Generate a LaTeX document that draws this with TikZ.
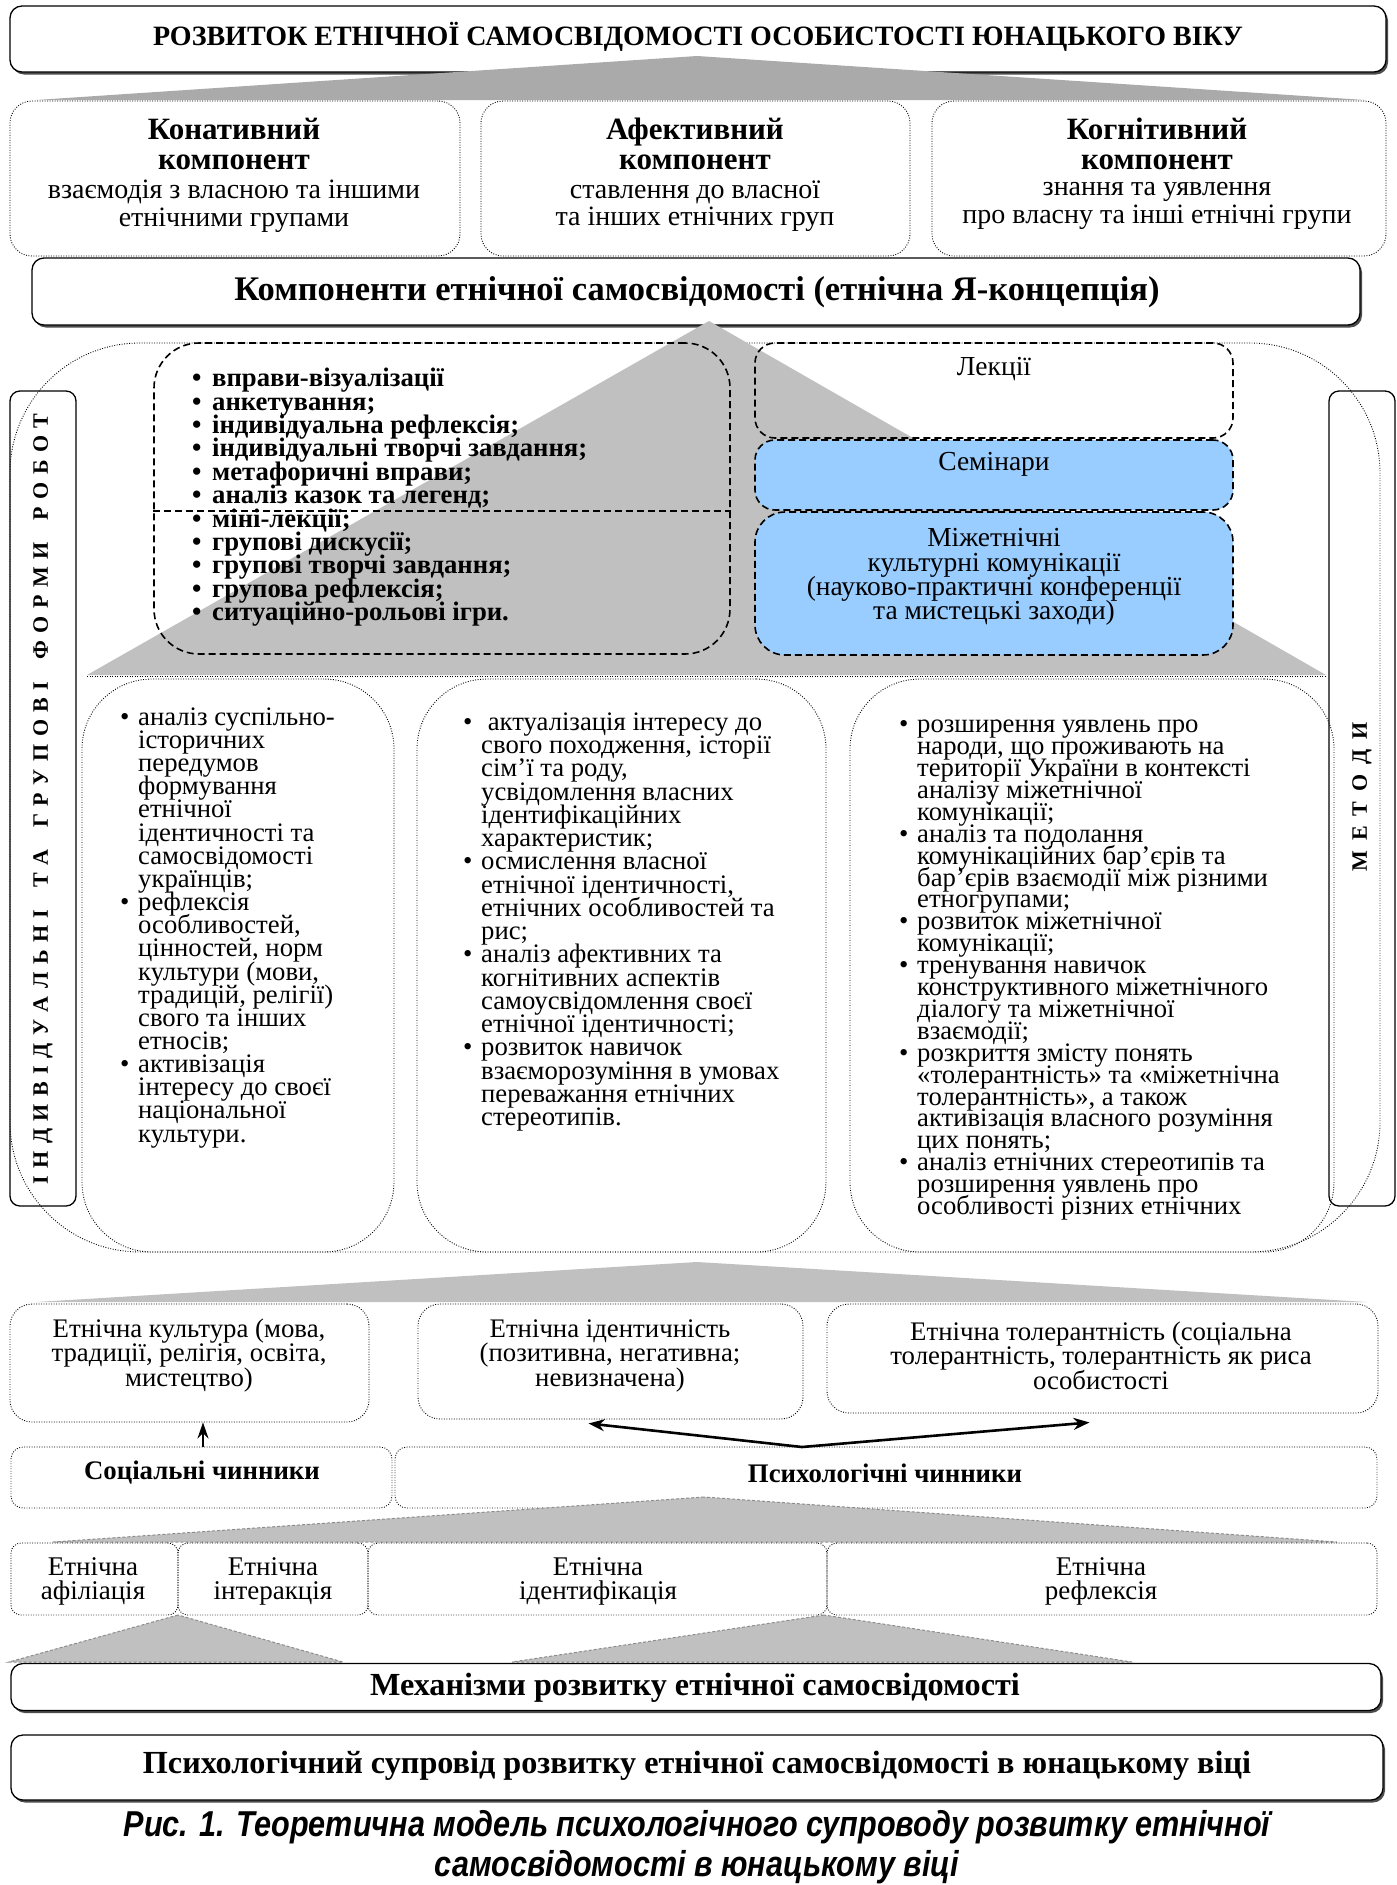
\documentclass[tikz,border=0pt]{standalone}
\usepackage{fontspec}
\setmainfont{Liberation Serif}
\newfontfamily\capfont{Liberation Sans}
\usetikzlibrary{shadows,calc,arrows.meta}
\newcommand\fsz[2]{\fontsize{#1}{#2}\selectfont\lineskiplimit=-100pt\lineskip=0pt\relax}
\newcommand\bu{\makebox[18pt][l]{\textbullet}}
\newcommand\ci{\hspace*{18pt}}
\newcommand\bub{\makebox[20pt][l]{\textbullet}}
\newcommand\lsp{\hspace{7.5pt}}
\newcommand\wsp{\hspace{22pt}}
\newcommand\msp{\hspace{10pt}}
\definecolor{blu}{HTML}{99CCFF}
\definecolor{trigray}{HTML}{C0C0C0}
\definecolor{topgray}{HTML}{AAAAAA}
\tikzset{
  solidbox/.style={draw, line width=1.3pt, rounded corners=12pt, fill=white, inner sep=0pt,
    drop shadow={shadow xshift=2pt, shadow yshift=-2.5pt, fill=black!70, opacity=1}},
  dotbox/.style={draw, line width=0.9pt, dash pattern=on 0.9pt off 1.6pt, inner sep=0pt, rounded corners=22pt},
  dashbox/.style={draw, line width=1.6pt, dash pattern=on 7pt off 4pt, inner sep=0pt, rounded corners=22pt},
  labelbox/.style={draw, line width=1.3pt, rounded corners=10pt, inner sep=0pt},
  txt/.style={inner sep=0pt, align=center},
  lst/.style={inner sep=0pt, align=left, anchor=north west},
  trifill/.style={fill=trigray},
  triout/.style={fill=trigray, draw=black!45, line width=1pt, dash pattern=on 3pt off 2pt},
  bigarrow/.style={line width=2.6pt, -{Stealth[length=16pt,width=12pt]}},
  captxt/.style={inner sep=0pt},
}
\newcommand\capline[1]{\scalebox{0.85}[1]{\capfont\bfseries\itshape\fontsize{36}{41}\selectfont #1}}
\begin{document}
\begin{tikzpicture}[x=1pt,y=-1pt]
\useasboundingbox (0,0) rectangle (1397,1885);
\fill[white] (0,0) rectangle (1397,1885);

% ---- top
\node[solidbox, minimum width=1376pt, minimum height=66pt] (top) at (698,39) {};
\node[txt, font=\bfseries\fsz{28}{30}] (toptxt) at (698,37) {РОЗВИТОК ЕТНІЧНОЇ САМОСВІДОМОСТІ ОСОБИСТОСТІ ЮНАЦЬКОГО ВІКУ};
\fill[topgray] (697,56) -- (36,100) -- (1365,100) -- cycle;

% ---- components
\node[dotbox, minimum width=450pt, minimum height=155pt] (c1) at (235,178.5) {};
\node[dotbox, minimum width=429pt, minimum height=155pt] (c2) at (695.5,178.5) {};
\node[dotbox, minimum width=454pt, minimum height=155pt] (c3) at (1159,178.5) {};
\node[txt, font=\bfseries\fsz{31}{30}] (c1h) at (234,144) {Конативний\\компонент};
\node[txt, font=\fsz{28}{27.5}] (c1d) at (234,206) {взаємодія з власною та іншими\\етнічними групами};
\node[txt, font=\bfseries\fsz{31}{30}] (c2h) at (695,144) {Афективний\\компонент};
\node[txt, font=\fsz{28}{27.5}] (c2d) at (695,206) {ставлення до власної\\та інших етнічних груп};
\node[txt, font=\bfseries\fsz{31}{30}] (c3h) at (1157,144) {Когнітивний\\компонент};
\node[txt, font=\fsz{28}{27.5}] (c3d) at (1157,206) {знання та уявлення\\про власну та інші етнічні групи};

\node[solidbox, minimum width=1328pt, minimum height=67pt] (bar) at (696,291.5) {};
\node[txt, font=\bfseries\fsz{34.5}{36}] (bartxt) at (697,292) {Компоненти етнічної самосвідомості (етнічна Я-концепція)};

% ---- house
\node[dotbox, rounded corners=130pt, minimum width=1370pt, minimum height=909pt] (frame) at (695,797.5) {};
\fill[trifill] (709,321) -- (87,675) -- (1326,675) -- cycle;
\draw[line width=0.9pt, dash pattern=on 0.9pt off 1.6pt] (87,676) -- (1326,676);

\node[labelbox, minimum width=66pt, minimum height=815pt] (lblL) at (43,798.5) {};
\node[inner sep=0pt, rotate=90, font=\bfseries\fsz{22}{24}] (lblLt) at (43,799) {І\lsp Н\lsp Д\lsp И\lsp В\lsp І\lsp Д\lsp У\lsp А\lsp Л\lsp Ь\lsp Н\lsp І\wsp Т\lsp А\wsp Г\lsp Р\lsp У\lsp П\lsp О\lsp В\lsp І\wsp Ф\lsp О\lsp Р\lsp М\lsp И\wsp Р\lsp О\lsp Б\lsp О\lsp Т};
\node[labelbox, minimum width=66pt, minimum height=815pt] (lblR) at (1362,798.5) {};
\node[inner sep=0pt, rotate=90, font=\bfseries\fsz{22}{24}] (lblRt) at (1362,797) {М\msp Е\msp Т\msp О\msp Д\msp И};

\node[dashbox, rounded corners=45pt, minimum width=576pt, minimum height=311pt] (forms) at (442,498.5) {};
\coordinate (divy) at (0,511);
\draw[line width=1.6pt, dash pattern=on 7pt off 4pt] (forms.west |- divy) -- (forms.east |- divy);
\node[lst, font=\bfseries\fsz{26.7}{23.4}] (formlist) at (192,368) {\bub вправи-візуалізації\\
\bub анкетування;\\
\bub індивідуальна рефлексія;\\
\bub індивідуальні творчі завдання;\\
\bub метафоричні вправи;\\
\bub аналіз казок та легенд;\\
\bub міні-лекції;\\
\bub групові дискусії;\\
\bub групові творчі завдання;\\
\bub групова рефлексія;\\
\bub ситуаційно-рольові ігри.};

\node[dashbox, rounded corners=20pt, minimum width=478pt, minimum height=95pt] (lect) at (994,390.5) {};
\node[dashbox, rounded corners=20pt, fill=blu, minimum width=478pt, minimum height=70pt] (sem) at (994,475) {};
\node[dashbox, rounded corners=30pt, fill=blu, minimum width=478pt, minimum height=143pt] (intc) at (994,583.5) {};
\node[txt, font=\fsz{27.5}{24}] (lectt) at (994,369) {Лекції};
\node[txt, font=\fsz{27.5}{24}] (semt) at (994,464) {Семінари};
\node[txt, font=\fsz{27.5}{24.3}] (intct) at (994,577) {Міжетнічні\\культурні комунікації\\(науково-практичні конференції\\та мистецькі заходи)};

% ---- columns
\node[dotbox, rounded corners=70pt, minimum width=312pt, minimum height=573pt] (col1) at (238,965.5) {};
\node[dotbox, rounded corners=70pt, minimum width=409pt, minimum height=573pt] (col2) at (621.5,965.5) {};
\node[dotbox, rounded corners=70pt, minimum width=484pt, minimum height=573pt] (col3) at (1092,965.5) {};

\node[lst, font=\fsz{26.7}{23.15}] (col1t) at (120,707.5) {\bu аналіз суспільно-\\
\ci історичних\\
\ci передумов\\
\ci формування\\
\ci етнічної\\
\ci ідентичності та\\
\ci самосвідомості\\
\ci українців;\\
\bu рефлексія\\
\ci особливостей,\\
\ci цінностей, норм\\
\ci культури (мови,\\
\ci традицій, релігії)\\
\ci свого та інших\\
\ci етносів;\\
\bu активізація\\
\ci інтересу до своєї\\
\ci національної\\
\ci культури.};

\node[lst, font=\fsz{26.7}{23.25}] (col2t) at (463,712.5) {\bu\ актуалізація інтересу до\\
\ci свого походження, історії\\
\ci сім’ї та роду,\\
\ci усвідомлення власних\\
\ci ідентифікаційних\\
\ci характеристик;\\
\bu осмислення власної\\
\ci етнічної ідентичності,\\
\ci етнічних особливостей та\\
\ci рис;\\
\bu аналіз афективних та\\
\ci когнітивних аспектів\\
\ci самоусвідомлення своєї\\
\ci етнічної ідентичності;\\
\bu розвиток навичок\\
\ci взаєморозуміння в умовах\\
\ci переважання етнічних\\
\ci стереотипів.};

\node[lst, font=\fsz{26.7}{21.9}] (col3t) at (899,720) {\bu розширення уявлень про\\
\ci народи, що проживають на\\
\ci території України в контексті\\
\ci аналізу міжетнічної\\
\ci комунікації;\\
\bu аналіз та подолання\\
\ci комунікаційних бар’єрів та\\
\ci бар’єрів взаємодії між різними\\
\ci етногрупами;\\
\bu розвиток міжетнічної\\
\ci комунікації;\\
\bu тренування навичок\\
\ci конструктивного міжетнічного\\
\ci діалогу та міжетнічної\\
\ci взаємодії;\\
\bu розкриття змісту понять\\
\ci «толерантність» та «міжетнічна\\
\ci толерантність», а також\\
\ci активізація власного розуміння\\
\ci цих понять;\\
\bu аналіз етнічних стереотипів та\\
\ci розширення уявлень про\\
\ci особливості різних етнічних};

% ---- lower part
\fill[trifill] (697,1262) -- (36,1302) -- (1367,1302) -- cycle;
\node[dotbox, rounded corners=22pt, minimum width=359pt, minimum height=118pt] (b1) at (189.5,1363) {};
\node[dotbox, rounded corners=22pt, minimum width=385pt, minimum height=115pt] (b2) at (610.5,1361.5) {};
\node[dotbox, rounded corners=22pt, minimum width=551pt, minimum height=109pt] (b3) at (1102.5,1358.5) {};
\node[txt, font=\fsz{26.8}{24.5}] (b1t) at (189,1355.5) {Етнічна культура (мова,\\традиції, релігія, освіта,\\мистецтво)};
\node[txt, font=\fsz{26.8}{24.5}] (b2t) at (610,1355.5) {Етнічна ідентичність\\(позитивна, негативна;\\невизначена)};
\node[txt, font=\fsz{26.8}{24.5}] (b3t) at (1101,1355.5) {Етнічна толерантність (соціальна\\толерантність, толерантність як риса\\особистості};

\node[dotbox, rounded corners=12pt, minimum width=381pt, minimum height=61pt] (soc) at (201.5,1477.5) {};
\node[dotbox, rounded corners=12pt, minimum width=982pt, minimum height=61pt] (psy) at (886,1477.5) {};
\node[txt, font=\bfseries\fsz{26.8}{28}] (soct) at (202,1473) {Соціальні чинники};
\node[txt, font=\bfseries\fsz{26.8}{28}] (psyt) at (885,1473) {Психологічні чинники};

\draw[line width=1.4pt, -{Stealth[length=16pt,width=11pt]}] (soc.north -| 203,0) -- (b1.south -| 203,0);
\coordinate (fork) at (802,1447);
\draw[bigarrow] (fork) -- ($(b2.south)+(-22,4)$);
\draw[bigarrow] (fork) -- ($(b3.south)+(-13,9)$);

\draw[triout] (704,1497) -- (53,1542) -- (1337,1542) -- cycle;

\node[dotbox, rounded corners=10pt, minimum width=167pt, minimum height=72pt] (m1) at (94.5,1579) {};
\node[dotbox, rounded corners=10pt, minimum width=190pt, minimum height=72pt] (m2) at (273,1579) {};
\node[dotbox, rounded corners=10pt, minimum width=459pt, minimum height=72pt] (m3) at (597.5,1579) {};
\node[dotbox, rounded corners=10pt, minimum width=550pt, minimum height=72pt] (m4) at (1102,1579) {};
\node[txt, font=\fsz{27}{24}] (m1t) at (93,1581) {Етнічна\\афіліація};
\node[txt, font=\fsz{27}{24}] (m2t) at (273,1581) {Етнічна\\інтеракція};
\node[txt, font=\fsz{27}{24}] (m3t) at (598,1581) {Етнічна\\ідентифікація};
\node[txt, font=\fsz{27}{24}] (m4t) at (1101,1581) {Етнічна\\рефлексія};

\draw[triout] (178,1615) -- (9,1662) -- (343,1662) -- cycle;
\draw[triout] (824,1615) -- (512,1662) -- (1132,1662) -- cycle;

\node[solidbox, minimum width=1370pt, minimum height=47pt] (mech) at (696,1687) {};
\node[txt, font=\bfseries\fsz{32.2}{34}] (mecht) at (695,1688) {Механізми розвитку етнічної самосвідомості};
\node[solidbox, minimum width=1372pt, minimum height=65pt] (sup) at (697,1767.5) {};
\node[txt, font=\bfseries\fsz{32.2}{34}] (supt) at (697,1766) {Психологічний супровід розвитку етнічної самосвідомості в юнацькому віці};

\node[captxt] (cap1) at (697,1827) {\capline{Рис. 1. Теоретична модель психологічного супроводу розвитку етнічної}};
\node[captxt] (cap2) at (697,1867) {\capline{самосвідомості в юнацькому віці}};
\end{tikzpicture}
\end{document}
